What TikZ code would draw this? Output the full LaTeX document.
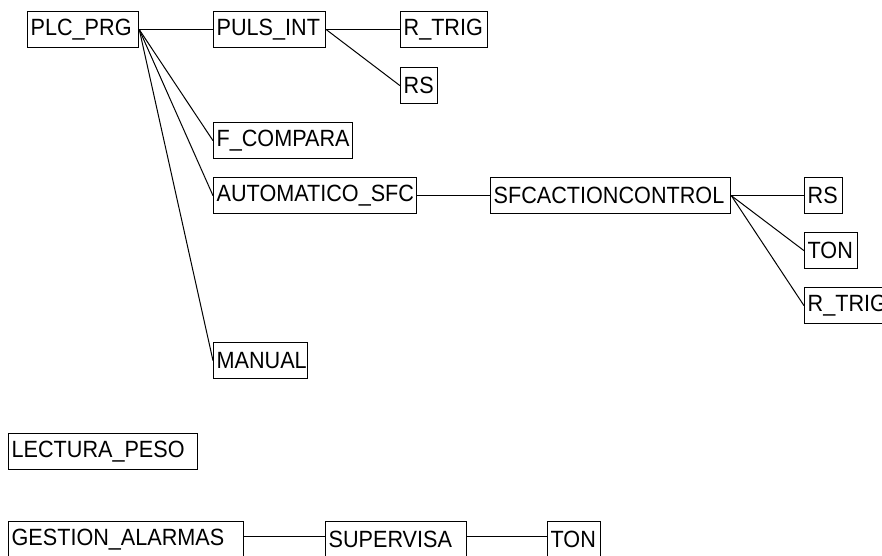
\documentclass[tikz,border=0pt]{standalone}
\usepackage{fontspec}
\newfontfamily\boxfont[FakeStretch=0.92]{Liberation Sans}
\begin{document}
\begin{tikzpicture}[x=1pt, y=-1pt,
  box/.style={draw, line width=1.3pt, anchor=north west,
    inner xsep=3pt, inner ysep=0pt, minimum height=36pt,
    align=left, font=\boxfont\fontsize{23.5pt}{26pt}\selectfont},
  boxside/.style={line width=1.3pt},
  link/.style={line width=1pt}]
  % page frame
  \useasboundingbox (0,0) rectangle (882,555);
  \fill[white] (0,0) rectangle (882,555);
  \clip (0,0) rectangle (882,555);

  % call tree of PLC_PRG
  \node[box, text width=105pt] (plc)     at (27,11)  {PLC\_PRG};
  \node[box, text width=106pt] (puls)    at (213,11) {PULS\_INT};
  \node[box, text width=81pt]  (rtrigA)  at (400,11) {R\_TRIG};
  \node[box, text width=31pt]  (rsA)     at (400,67) {RS};
  \node[box, text width=133pt] (fcomp)   at (213,122) {F\_COMPARA};
  \node[box, text width=197pt] (auto)    at (213,177) {AUTOMATICO\_SFC};
  \node[box, text width=234pt] (sfcac)   at (490,177) {SFCACTIONCONTROL};
  \node[box, text width=32pt]  (rsB)     at (804,177) {RS};
  \node[box, text width=47pt]  (tonB)    at (804,232) {TON};
  \node[box, text width=81pt]  (rtrigB)  at (804,287) {R\_TRIG};
  \node[box, text width=88pt]  (manual)  at (213,342) {MANUAL};

  % stand-alone program
  \node[box, text width=183pt] (lectura) at (8,433) {LECTURA\_PESO};

  % alarm handling chain (runs past the lower edge)
  \node[box, text width=229pt] (gestion) at (8,521)   {GESTION\_ALARMAS};
  \node[box, text width=135pt] (superv)  at (325,521) {SUPERVISA};
  \node[box, text width=47pt]  (tonC)    at (547,521) {TON};
  \draw[boxside] (gestion.south west) -- ++(0,8) (gestion.south east) -- ++(0,8);
  \draw[boxside] (superv.south west) -- ++(0,8) (superv.south east) -- ++(0,8);
  \draw[boxside] (tonC.south west) -- ++(0,8) (tonC.south east) -- ++(0,8);

  % connectors
  \draw[link] (plc.east) -- (puls.west);
  \draw[link] (plc.east) -- (fcomp.west);
  \draw[link] (plc.east) -- (auto.west);
  \draw[link] (plc.east) -- (manual.west);
  \draw[link] (puls.east) -- (rtrigA.west);
  \draw[link] (puls.east) -- (rsA.west);
  \draw[link] (auto.east) -- (sfcac.west);
  \draw[link] (sfcac.east) -- (rsB.west);
  \draw[link] (sfcac.east) -- (tonB.west);
  \draw[link] (sfcac.east) -- (rtrigB.west);
  \draw[link] ([yshift=3pt]gestion.east) -- ([yshift=3pt]superv.west);
  \draw[link] ([yshift=3pt]superv.east) -- ([yshift=3pt]tonC.west);
\end{tikzpicture}
\end{document}
